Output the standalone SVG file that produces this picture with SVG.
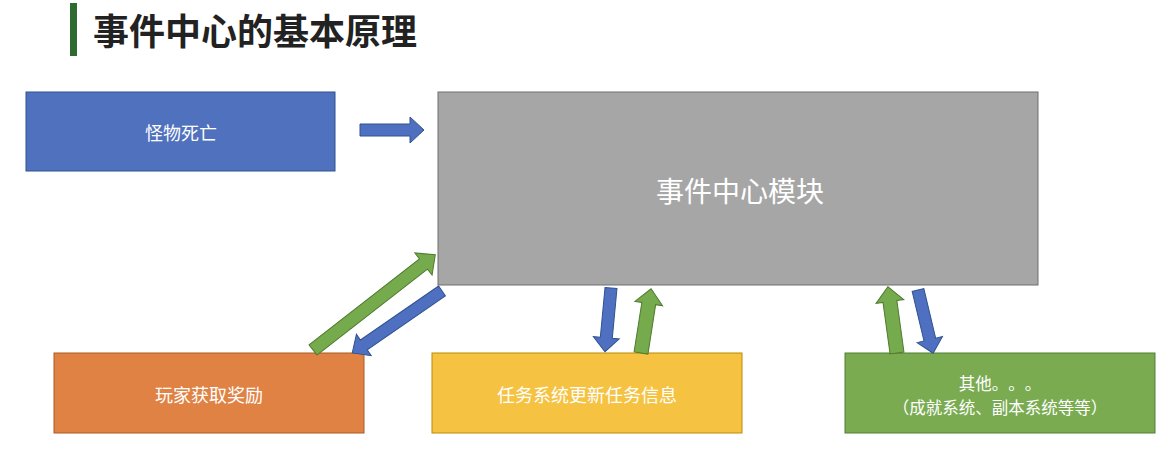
<svg xmlns="http://www.w3.org/2000/svg" width="1173" height="457" viewBox="0 0 1173 457">
<style>
.lbl{font-family:"Noto Sans CJK SC","Noto Sans",sans-serif;fill:#ffffff;text-anchor:middle;dominant-baseline:central;text-spacing-trim:space-all}
.box{stroke-width:1}
.ab{fill:#4F70C1;stroke:#2F528F;stroke-width:1}
.ag{fill:#75AA4D;stroke:#4F7A30;stroke-width:1}
</style>
<rect width="1173" height="457" fill="#ffffff"/>
<g id="title">
<rect x="70" y="3" width="7" height="53" fill="#2E6B30"/>
<text x="93" y="29" font-family="'Noto Sans CJK SC','Noto Sans',sans-serif" font-size="36" font-weight="bold" fill="#222222" dominant-baseline="central">事件中心的基本原理</text>
</g>
<g id="node-monster">
<rect class="box" x="26" y="92" width="309" height="79" fill="#5071BE" stroke="#2F528F"/>
<text class="lbl" x="181" y="132" font-size="18">怪物死亡</text>
</g>
<g id="node-center">
<rect class="box" x="438" y="92" width="600" height="193" fill="#A6A6A6" stroke="#6E6E6E"/>
<text class="lbl" x="740" y="190" font-size="28">事件中心模块</text>
</g>
<g id="node-player">
<rect class="box" x="54" y="353" width="310" height="80" fill="#DF8244" stroke="#AE5A21"/>
<text class="lbl" x="209" y="394" font-size="18">玩家获取奖励</text>
</g>
<g id="node-task">
<rect class="box" x="432" y="353" width="310" height="80" fill="#F5C242" stroke="#BC8C00"/>
<text class="lbl" x="587" y="394" font-size="18">任务系统更新任务信息</text>
</g>
<g id="node-other">
<rect class="box" x="845" y="353" width="310" height="80" fill="#7AAB51" stroke="#507E32"/>
<text class="lbl" x="1000" y="383" font-size="16.5">其他。。。</text>
<text class="lbl" x="1000" y="407" font-size="16.5">（成就系统、副本系统等等）</text>
</g>
<g id="connectors">
<polygon class="ab" transform="translate(360,130)" points="0,-6 50,-6 50,-13 64,0 50,13 50,6 0,6"/>
<polygon class="ag" transform="translate(313,350) rotate(-37.9)" points="0,-6.5 140,-6.5 140,-14 155,0 140,14 140,6.5 0,6.5"/>
<polygon class="ab" transform="translate(442,291) rotate(145.4)" points="0,-6 95,-6 95,-13 109,0 95,13 95,6 0,6"/>
<polygon class="ab" transform="translate(611,288) rotate(95.4)" points="0,-6 50,-6 50,-13 64,0 50,13 50,6 0,6"/>
<polygon class="ag" transform="translate(641,353) rotate(-81.1)" points="0,-7 50,-7 50,-14 65,0 50,14 50,7 0,7"/>
<polygon class="ag" transform="translate(897,353) rotate(-97.8)" points="0,-7 52,-7 52,-14 67,0 52,14 52,7 0,7"/>
<polygon class="ab" transform="translate(918,290) rotate(76.6)" points="0,-6 51,-6 51,-13 65,0 51,13 51,6 0,6"/>
</g>
</svg>
